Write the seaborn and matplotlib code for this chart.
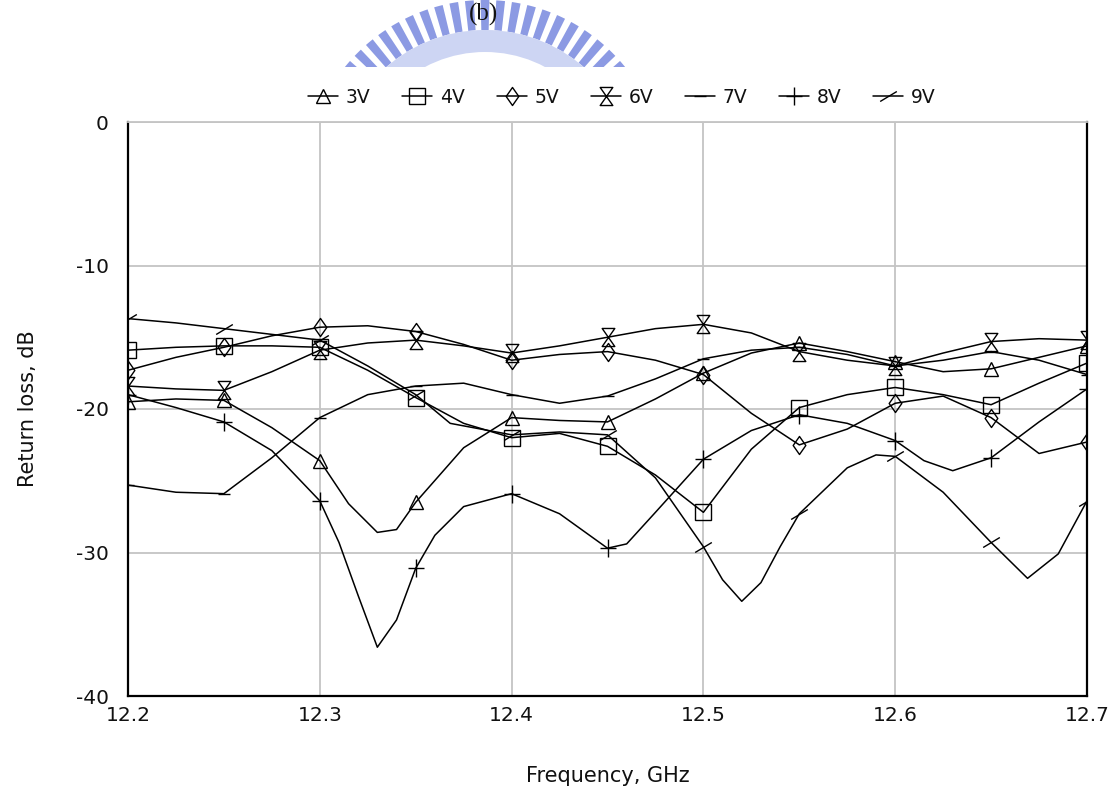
import numpy as np
import pandas as pd
import matplotlib
matplotlib.use("Agg")
import matplotlib.pyplot as plt
import matplotlib.transforms as mtransforms
from matplotlib.path import Path
from matplotlib.patches import Wedge, Rectangle
import seaborn as sns

# ---------------- data ----------------
FREQ = [12.200, 12.225, 12.250, 12.275, 12.300, 12.325, 12.350, 12.375, 12.400,
        12.425, 12.450, 12.475, 12.500, 12.525, 12.550, 12.575, 12.600, 12.625,
        12.650, 12.675, 12.700]

freq_3v = [12.2, 12.225, 12.25, 12.275, 12.3, 12.315, 12.33, 12.34, 12.35, 12.375,
           12.4, 12.425, 12.45, 12.475, 12.5, 12.525, 12.55, 12.575, 12.6, 12.625,
           12.65, 12.675, 12.7]
rl_3v = [-19.5, -19.3, -19.4, -21.3, -23.6, -26.6, -28.6, -28.4, -26.5, -22.7,
         -20.6, -20.8, -20.9, -19.3, -17.5, -16.1, -15.4, -16.0, -16.7, -17.4,
         -17.2, -16.4, -15.6]

rl_4v = [-15.9, -15.7, -15.6, -15.6, -15.7, -17.3, -19.2, -21.0, -22.0, -21.7,
         -22.6, -24.6, -27.2, -22.8, -19.9, -19.0, -18.5, -19.0, -19.7, -18.2, -16.8]

rl_5v = [-17.3, -16.4, -15.7, -14.9, -14.3, -14.2, -14.6, -15.5, -16.6, -16.2,
         -16.0, -16.6, -17.6, -20.3, -22.5, -21.4, -19.6, -19.1, -20.6, -23.1, -22.3]

rl_6v = [-18.4, -18.6, -18.7, -17.4, -15.9, -15.4, -15.2, -15.6, -16.1, -15.6,
         -15.0, -14.4, -14.1, -14.7, -16.0, -16.6, -17.0, -16.1, -15.3, -15.1, -15.2]

rl_7v = [-25.3, -25.8, -25.9, -23.4, -20.6, -19.0, -18.4, -18.2, -19.0, -19.6,
         -19.1, -17.9, -16.5, -15.9, -15.7, -16.2, -17.0, -16.6, -16.0, -16.6, -17.6]

freq_8v = [12.2, 12.225, 12.25, 12.275, 12.3, 12.31, 12.32, 12.33, 12.34, 12.35,
           12.36, 12.375, 12.4, 12.425, 12.45, 12.46, 12.475, 12.5, 12.525, 12.55,
           12.575, 12.6, 12.615, 12.63, 12.65, 12.675, 12.7]
rl_8v = [-19.0, -19.9, -20.9, -22.9, -26.4, -29.3, -33.0, -36.6, -34.7, -31.1,
         -28.8, -26.8, -25.9, -27.3, -29.7, -29.4, -27.2, -23.5, -21.5, -20.4,
         -21.0, -22.2, -23.6, -24.3, -23.4, -20.9, -18.6]

freq_9v = [12.2, 12.225, 12.25, 12.275, 12.3, 12.325, 12.35, 12.368, 12.4, 12.425,
           12.45, 12.475, 12.5, 12.51, 12.52, 12.53, 12.54, 12.55, 12.575, 12.59,
           12.6, 12.625, 12.65, 12.669, 12.685, 12.7]
rl_9v = [-13.7, -14.0, -14.4, -14.8, -15.2, -17.0, -19.0, -21.0, -21.8, -21.6,
         -21.8, -24.8, -29.6, -31.9, -33.4, -32.1, -29.6, -27.3, -24.1, -23.2,
         -23.3, -25.8, -29.3, -31.8, -30.1, -26.4]

SERIES_NAMES = ["3V", "4V", "5V", "6V", "7V", "8V", "9V"]
XTICKS = [12.2, 12.3, 12.4, 12.5, 12.6, 12.7]
YTICKS = [0, -10, -20, -30, -40]
XLABEL = "Frequency, GHz"
YLABEL = "Return loss, dB"
PANEL = "(b)"

# ---------------- marker shapes ----------------
M, L, C = Path.MOVETO, Path.LINETO, Path.CLOSEPOLY
HOURGLASS = Path([(-0.7, 1), (0.7, 1), (-0.7, -1), (0.7, -1), (-0.7, 1)], [M, L, L, L, C])
DIAMOND = Path([(0, 1), (0.7, 0), (0, -1), (-0.7, 0), (0, 1)], [M, L, L, L, C])
SLASH = Path([(-1, -0.6), (1, 0.6)], [M, L])
PLUS = Path([(-0.85, 0), (0.85, 0), (0, -1), (0, 1)], [M, L, M, L])

styles = {
    "3V": dict(marker="^", markersize=10),
    "4V": dict(marker="s", markersize=12),
    "5V": dict(marker=DIAMOND, markersize=13),
    "6V": dict(marker=HOURGLASS, markersize=13),
    "7V": dict(marker="_", markersize=8),
    "8V": dict(marker=PLUS, markersize=13),
    "9V": dict(marker=SLASH, markersize=12),
}

data = {
    "3V": (freq_3v, rl_3v),
    "4V": (FREQ, rl_4v),
    "5V": (FREQ, rl_5v),
    "6V": (FREQ, rl_6v),
    "7V": (FREQ, rl_7v),
    "8V": (freq_8v, rl_8v),
    "9V": (freq_9v, rl_9v),
}

# ---------------- figure ----------------
sns.set_theme(style="white")
plt.rcParams["font.family"] = ["DejaVu Sans"]
plt.rcParams["axes.unicode_minus"] = False

W, H = 1113, 794
fig = plt.figure(figsize=(W / 100, H / 100), dpi=100)
fig.patch.set_facecolor("white")

# watermark logo (decorative) behind the panel label
px = mtransforms.IdentityTransform()
cx, cy = 485, H - 180
R = 180
for ang in np.arange(40, 142, 5.0):
    fig.add_artist(Wedge((cx, cy), R, ang - 1.4, ang + 1.4, width=30,
                         transform=px, facecolor="#6f81dc", edgecolor="none",
                         alpha=0.8, zorder=-3))
fig.add_artist(Wedge((cx, cy), R - 30, 0, 180, width=22, transform=px,
                     facecolor="#cdd5f3", edgecolor="none", zorder=-3))
fig.add_artist(Rectangle((0, 0), W, H - 67, transform=px, facecolor="white",
                         edgecolor="none", zorder=-2))

fig.text(483 / W, 1 - 14 / H, PANEL, ha="center", va="center", fontsize=18,
         family=["Liberation Serif", "DejaVu Serif"], color="#111111")

ax = fig.add_axes([128 / W, 1 - 696 / H, (1087 - 128) / W, (696 - 122) / H])

for name in SERIES_NAMES:
    f, v = data[name]
    df = pd.DataFrame({"freq": f, "rl": v})
    idx = [i for i, x in enumerate(f) if abs(x * 20 - round(x * 20)) < 1e-6]
    st = styles[name]
    sns.lineplot(data=df, x="freq", y="rl", ax=ax, color="black", linewidth=1.1,
                 marker=st["marker"], markersize=st["markersize"], markevery=idx,
                 markerfacecolor="none", markeredgecolor="black",
                 markeredgewidth=1.0, label=name, estimator=None, sort=False)

ax.set_xlim(12.2, 12.7)
ax.set_ylim(-40, 0)
ax.set_xticks(XTICKS)
ax.set_xticklabels([f"{t:.1f}" for t in XTICKS])
ax.set_yticks(YTICKS)
ax.set_yticklabels([str(t) for t in YTICKS])
ax.grid(True, color="#c4c4c4", linewidth=1.3)
ax.set_axisbelow(True)
ax.tick_params(axis="both", length=0, labelsize=14.5, colors="#111111")
ax.tick_params(axis="y", pad=14)
ax.tick_params(axis="x", pad=7)
for s in ["left", "right", "bottom"]:
    ax.spines[s].set_visible(True)
    ax.spines[s].set_color("black")
    ax.spines[s].set_linewidth(1.6)
ax.spines["top"].set_visible(True)
ax.spines["top"].set_color("#c4c4c4")
ax.spines["top"].set_linewidth(1.3)

ax.set_xlabel(XLABEL, fontsize=15, color="#111111")
ax.set_ylabel(YLABEL, fontsize=15, color="#111111")
ax.xaxis.set_label_coords(0.5, -0.122)
ax.yaxis.set_label_coords(-0.094, 0.5)

leg = ax.legend(loc="lower center", bbox_to_anchor=(0.515, 1.02), ncol=7,
                frameon=False, fontsize=13.5, handlelength=1.6, handletextpad=0.4,
                columnspacing=1.7, borderaxespad=0.0, borderpad=0.2)
for t in leg.get_texts():
    t.set_color("#111111")

fig.savefig("out.png", dpi=100, facecolor="white")
